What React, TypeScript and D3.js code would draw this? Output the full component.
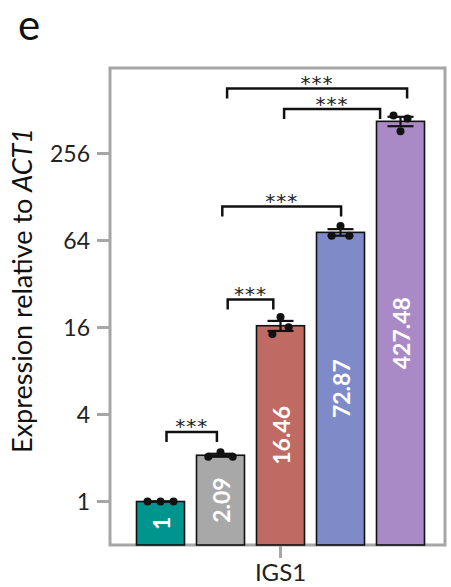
import React from 'react';
import * as d3 from 'd3';

const groups = ['g1', 'g2', 'g3', 'g4', 'g5'];
const means = [1, 2.09, 16.46, 72.87, 427.48];
const labels = ['1', '2.09', '16.46', '72.87', '427.48'];
const replicates = [
  [1, 1, 1],
  [2.04, 2.19, 2.04],
  [14.4, 18.9, 16.08],
  [69.0, 80.5, 69.1],
  [470, 365, 447.4],
];
const colors = ['#00948f', '#a8a8a8', '#bf6b63', '#7f8ac8', '#a98ac6'];
const yTicks = [1, 4, 16, 64, 256];
// from, to, level (data units), end offsets as fraction of band step
const brackets = [
  { from: 0, to: 1, level: 3.03, a: 0.1, b: -0.06 },
  { from: 1, to: 2, level: 25, a: 0.12, b: -0.12 },
  { from: 1, to: 3, level: 110, a: 0.03, b: 0.01 },
  { from: 2, to: 4, level: 520, a: 0.06, b: -0.34 },
  { from: 1, to: 4, level: 720, a: 0.11, b: 0.11 },
];

const W = 451, H = 587;
const left = 110, right = 445, top = 68, bottom = 545;
const font = 'Lato, "Open Sans", sans-serif';

export default function App() {
  const x = d3.scaleBand<string>()
    .domain(groups)
    .range([left + 20.5, left + 320.5])
    .paddingInner(0.2)
    .paddingOuter(0.1);
  const y = d3.scaleLog().base(2).domain([0.5, 1000]).range([bottom, top]);
  const bw = x.bandwidth();
  const step = x.step();
  const cx = (i: number) => (x(groups[i]) as number) + bw / 2;
  const midX = (left + 20.5 + left + 320.5) / 2;

  // simple swarm spread so equal values do not overlap
  const spreadFor = (vals: number[]) => {
    const D = 13;
    const ys = vals.map(v => y(v));
    let s = 7;
    for (let i = 0; i < ys.length; i++) {
      for (let j = i + 1; j < ys.length; j++) {
        const dy = Math.abs(ys[i] - ys[j]);
        const need = Math.sqrt(Math.max(0, D * D - dy * dy)) / (j - i);
        s = Math.max(s, need);
      }
    }
    return s;
  };

  return (
    <svg width={W} height={H} style={{ position: 'absolute', left: 0, top: 0 }} fontFamily={font}>
      <text x={18} y={40} fontSize={42} fill="#111">e</text>

      <text
        transform={`translate(32,${(top + bottom) / 2 - 16}) rotate(-90)`}
        textAnchor="middle" fontSize={27} fill="#111"
      >
        Expression relative to <tspan fontStyle="italic">ACT1</tspan>
      </text>

      {/* frame */}
      <rect x={left} y={top} width={right - left} height={bottom - top}
        fill="none" stroke="#a6a6a6" strokeWidth={3} />

      {yTicks.map(t => (
        <g key={t}>
          <line x1={left - 13} x2={left} y1={y(t)} y2={y(t)} stroke="#a6a6a6" strokeWidth={3} />
          <text x={left - 20} y={y(t)} dy="0.35em" textAnchor="end" fontSize={23} fill="#222">{t}</text>
        </g>
      ))}

      <line x1={midX} x2={midX} y1={bottom} y2={bottom + 13} stroke="#a6a6a6" strokeWidth={3} />
      <text x={midX} y={581} textAnchor="middle" fontSize={24} fill="#222">IGS1</text>

      {means.map((m, i) => (
        <rect key={'b' + i} x={x(groups[i])} y={y(m)} width={bw} height={y(0.5) - y(m)}
          fill={colors[i]} stroke="#111" strokeWidth={1.6} />
      ))}

      {means.map((m, i) => (
        <text key={'l' + i}
          transform={`translate(${cx(i)},${(y(m) + y(0.5)) / 2}) rotate(-90)`}
          textAnchor="middle" dominantBaseline="central"
          fontSize={23} fontWeight="bold" fill="#fff">{labels[i]}</text>
      ))}

      {replicates.map((vals, i) => {
        const mean = d3.mean(vals) as number;
        const se = (d3.deviation(vals) || 0) / Math.sqrt(vals.length);
        const c = cx(i);
        const y1 = y(mean + se), y2 = y(Math.max(mean - se, 0.5));
        return (
          <g key={'e' + i} stroke="#111" strokeWidth={2.2}>
            <line x1={c} x2={c} y1={y1} y2={y2} />
            <line x1={c - 13} x2={c + 13} y1={y1} y2={y1} />
            <line x1={c - 13} x2={c + 13} y1={y2} y2={y2} />
          </g>
        );
      })}

      {replicates.map((vals, i) => {
        const s = spreadFor(vals);
        return vals.map((v, k) => (
          <circle key={'p' + i + '-' + k} cx={cx(i) + (k - 1) * s} cy={y(v)} r={4} fill="#111" />
        ));
      })}

      {brackets.map((b, i) => {
        const x1 = cx(b.from) + b.a * step;
        const x2 = cx(b.to) + b.b * step;
        const yy = y(b.level);
        return (
          <g key={'k' + i}>
            <path d={`M${x1},${yy + 10}V${yy}H${x2}V${yy + 10}`} fill="none" stroke="#111" strokeWidth={2.5} />
            <text x={(x1 + x2) / 2} y={yy + 1.5} textAnchor="middle" fontSize={20}
              fontFamily='"DejaVu Sans", sans-serif' letterSpacing={1} fill="#222">***</text>
          </g>
        );
      })}
    </svg>
  );
}
